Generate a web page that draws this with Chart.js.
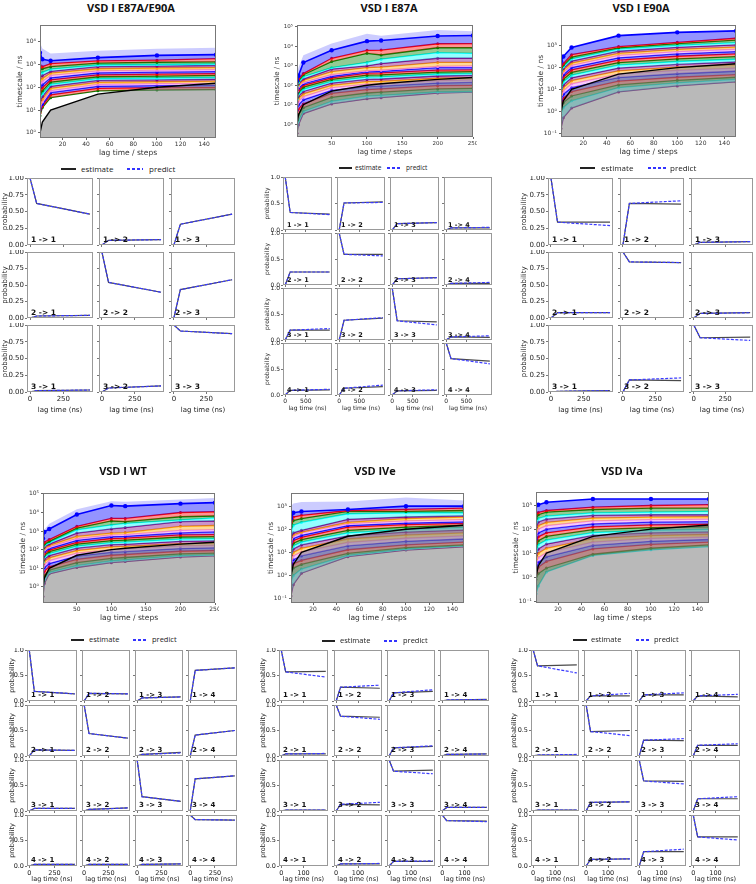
<!DOCTYPE html>
<html lang="en">
<head>
<meta charset="UTF-8">
<title>VSD implied timescales and CK tests</title>
<script src="https://cdn.jsdelivr.net/npm/chart.js"></script>
<style>
  body { margin: 0; background: #fff; }
  #fig { position: relative; width: 756px; height: 884px; overflow: hidden; }
  #fig canvas { position: absolute; }
  .ttl { position: absolute; font: bold 11px 'Open Sans', sans-serif; color: #111; white-space: nowrap; transform: translate(-50%, -50%); }
  .lgTxt { position: absolute; font-family: 'Open Sans', sans-serif; color: #222; white-space: nowrap; transform: translateY(-50%); line-height: 1; }
  .lgLine { position: absolute; height: 1.5px; }
  .cellLbl { position: absolute; font-family: 'DejaVu Sans', sans-serif; font-weight: bold; color: #111; white-space: nowrap; line-height: 1; }
</style>
</head>
<body>
<div id="fig"></div>
<script>
// ---------- data ----------
const lagsShort = [1, 3, 10, 50, 100, 150];
const lagsLong = [1, 3, 10, 50, 100, 120, 200, 250];
// lag time line in ns (grey area below it)
const lagNsShort = [1, 3, 10, 50, 100, 150];
const lagNsLong = [1, 3, 10, 50, 100, 120, 200, 250];
const ticksShort = [20, 40, 60, 80, 100, 120, 140];
const ticksLong = [50, 100, 150, 200, 250];

// implied timescales (ns), slowest process first
const tsE87E90 = [
  [3250, 1700, 1450, 2000, 2500, 2700],
  [950, 800, 1100, 1450, 1550, 1800],
  [600, 650, 800, 1150, 1250, 1300],
  [420, 450, 620, 950, 1000, 1050],
  [300, 330, 500, 800, 850, 900],
  [210, 240, 420, 650, 700, 730],
  [150, 180, 330, 520, 560, 600],
  [105, 130, 260, 430, 460, 490],
  [75, 95, 210, 350, 380, 400],
  [52, 70, 170, 290, 310, 330],
  [38, 52, 135, 240, 255, 270],
  [27, 40, 110, 200, 210, 225],
  [20, 30, 90, 165, 175, 185],
  [14, 23, 72, 135, 145, 150],
  [10, 18, 58, 110, 118, 122],
  [7.5, 15, 47, 90, 96, 100],
  [5.7, 13, 35, 70, 76, 80]
];
const bandE87E90 = [9000, 5000, 3000, 4000, 4900, 5400];

const tsE87 = [
  [170, 310, 1480, 6300, 18600, 20000, 34000, 36000],
  [130, 200, 400, 2450, 6300, 6500, 13700, 14000],
  [110, 170, 350, 1650, 4400, 3600, 8500, 8500],
  [90, 140, 275, 800, 1500, 2200, 4800, 4400],
  [75, 120, 210, 680, 1000, 1300, 2450, 2450],
  [60, 100, 180, 500, 800, 850, 1500, 1500],
  [50, 85, 140, 350, 560, 600, 930, 1000],
  [40, 70, 120, 290, 500, 520, 800, 800],
  [32, 55, 100, 240, 420, 430, 600, 620],
  [25, 45, 80, 200, 330, 340, 480, 500],
  [19, 36, 62, 160, 260, 270, 380, 400],
  [14, 28, 48, 130, 200, 210, 300, 320],
  [10, 21, 36, 100, 155, 160, 230, 250],
  [7, 15, 26, 75, 115, 120, 175, 190],
  [5, 10, 18, 55, 85, 90, 130, 140],
  [3, 6, 11, 38, 60, 65, 95, 100],
  [1.6, 3, 7, 24, 40, 44, 65, 70],
  [0.8, 1.5, 4.5, 15, 28, 30, 45, 48],
  [0.34, 0.9, 3.5, 11, 20, 23, 40, 45]
];
const bandE87 = [400, 800, 3500, 14000, 45000, 35000, 70000, 60000];

const tsE90 = [
  [195, 320, 830, 2900, 4100, 4800],
  [95, 150, 390, 920, 1440, 2200],
  [80, 130, 300, 800, 1250, 1800],
  [65, 110, 250, 700, 1050, 1400],
  [52, 90, 200, 560, 850, 1100],
  [42, 75, 160, 450, 680, 870],
  [33, 60, 125, 360, 540, 690],
  [26, 47, 100, 280, 420, 540],
  [20, 37, 78, 220, 330, 420],
  [15, 29, 60, 170, 250, 320],
  [11, 22, 45, 130, 190, 240],
  [8, 16, 34, 95, 140, 180],
  [6, 12, 25, 70, 105, 135],
  [4.2, 8.5, 18, 50, 75, 95],
  [3, 6, 12, 35, 52, 68],
  [2, 4, 8, 24, 36, 48],
  [1.2, 2.5, 5, 16, 26, 36],
  [0.7, 1.5, 3, 12, 20, 29],
  [0.16, 0.5, 1.4, 7.7, 14.4, 22]
];

const tsWT = [
  [400, 900, 1300, 7800, 24000, 22000, 30000, 34000],
  [150, 250, 350, 1800, 4800, 4800, 10000, 11000],
  [120, 200, 280, 1450, 3500, 3200, 5900, 6500],
  [100, 170, 240, 1170, 2150, 2600, 4000, 5200],
  [80, 140, 200, 780, 1300, 1550, 3200, 3500],
  [65, 115, 170, 520, 780, 830, 1800, 2000],
  [52, 95, 140, 400, 620, 650, 1100, 1200],
  [42, 78, 115, 320, 500, 520, 800, 900],
  [34, 62, 95, 250, 400, 420, 620, 650],
  [27, 50, 78, 200, 310, 330, 480, 500],
  [21, 40, 62, 155, 240, 255, 370, 390],
  [16, 31, 48, 120, 185, 195, 280, 300],
  [12, 23, 36, 90, 140, 150, 210, 230],
  [8, 16, 26, 65, 100, 110, 160, 170],
  [5.5, 11, 18, 45, 72, 78, 115, 125],
  [3.5, 7, 12, 30, 50, 55, 82, 90],
  [2, 4, 8, 20, 34, 38, 60, 65],
  [1, 2.5, 6, 14, 25, 28, 48, 52],
  [0.3, 1.5, 5, 11, 20, 23, 40, 46]
];
const bandWT = [600, 1200, 2500, 15000, 40000, 38000, 50000, 60000];

const tsIVe = [
  [290, 520, 590, 720, 1000, 1000],
  [200, 340, 400, 650, 720, 820],
  [130, 240, 290, 590, 590, 650],
  [76, 150, 200, 470, 520, 520],
  [45, 70, 90, 270, 340, 380],
  [35, 58, 75, 200, 290, 340],
  [28, 50, 70, 175, 230, 260],
  [22, 40, 55, 145, 185, 210],
  [17, 32, 45, 125, 160, 180],
  [13, 25, 36, 90, 125, 150],
  [10, 19, 28, 70, 100, 120],
  [7.5, 14, 21, 52, 76, 92],
  [5.5, 10, 15, 38, 56, 70],
  [4, 7, 10.5, 27, 41, 52],
  [2.8, 4.8, 7, 19, 30, 38],
  [1.9, 3.2, 4.5, 13, 21, 28],
  [1.2, 2.1, 3, 9, 16, 21],
  [0.5, 1, 1.9, 7.5, 14, 19.5],
  [0.13, 0.4, 1.25, 6.5, 12.6, 17.5]
];
const bandIVe = [1000, 1300, 1500, 1600, 2400, 1750];

const tsIVa = [
  [970, 1050, 1320, 1800, 1800, 1800],
  [440, 500, 600, 830, 970, 1050],
  [270, 400, 515, 660, 750, 750],
  [200, 280, 350, 480, 515, 550],
  [120, 200, 260, 375, 400, 400],
  [80, 140, 190, 290, 320, 330],
  [55, 100, 140, 220, 250, 260],
  [38, 70, 100, 165, 195, 205],
  [26, 48, 70, 125, 150, 160],
  [18, 33, 50, 95, 115, 125],
  [12, 23, 35, 72, 90, 98],
  [8, 15, 24, 55, 70, 77],
  [5.5, 10, 16, 40, 54, 60],
  [3.7, 6.5, 10.5, 29, 41, 47],
  [2.4, 4.2, 7, 21, 31, 37],
  [1.5, 2.6, 4.5, 15, 23, 29],
  [0.8, 1.4, 2.4, 9, 16, 22],
  [0.2, 0.43, 1.65, 8, 13.7, 18.7]
];

// decades shown on the log axes
const decE87E90 = [0, 1, 2, 3, 4];
const decE87 = [0, 1, 2, 3, 4, 5];
const decE90 = [-1, 0, 1, 2, 3];
const decWT = [0, 1, 2, 3, 4, 5];
const decIVe = [-1, 0, 1, 2, 3];
const decIVa = [-1, 0, 1, 2, 3];

// CK test, row-major i -> j : [value at lag, estimate at end, predict at end]
const ckE87E90 = [
  [0.62, 0.46, 0.46], [0.07, 0.08, 0.08], [0.31, 0.46, 0.46],
  [0.03, 0.04, 0.04], [0.54, 0.39, 0.39], [0.43, 0.58, 0.58],
  [0.02, 0.03, 0.03], [0.06, 0.09, 0.09], [0.91, 0.87, 0.87]
];
const ckE87 = [
  [0.33, 0.30, 0.29], [0.51, 0.53, 0.52], [0.12, 0.14, 0.14], [0.04, 0.04, 0.05],
  [0.25, 0.25, 0.25], [0.59, 0.59, 0.56], [0.12, 0.14, 0.14], [0.03, 0.03, 0.05],
  [0.19, 0.19, 0.22], [0.38, 0.42, 0.43], [0.37, 0.35, 0.29], [0.06, 0.05, 0.08],
  [0.09, 0.10, 0.11], [0.13, 0.16, 0.19], [0.08, 0.09, 0.10], [0.70, 0.65, 0.60]
];
const ckE90 = [
  [0.34, 0.34, 0.29], [0.62, 0.61, 0.66], [0.04, 0.05, 0.05],
  [0.08, 0.08, 0.08], [0.85, 0.84, 0.84], [0.07, 0.08, 0.08],
  [0.01, 0.02, 0.02], [0.18, 0.17, 0.21], [0.81, 0.82, 0.77]
];
const ckWT = [
  [0.19, 0.14, 0.14], [0.15, 0.14, 0.14], [0.06, 0.08, 0.08], [0.60, 0.65, 0.65],
  [0.12, 0.11, 0.11], [0.44, 0.35, 0.35], [0.03, 0.07, 0.06], [0.41, 0.50, 0.50],
  [0.05, 0.05, 0.05], [0.03, 0.06, 0.06], [0.28, 0.19, 0.19], [0.63, 0.69, 0.69],
  [0.03, 0.03, 0.03], [0.03, 0.03, 0.03], [0.03, 0.04, 0.04], [0.91, 0.90, 0.90]
];
const ckIVe = [
  [0.57, 0.58, 0.47], [0.27, 0.25, 0.31], [0.16, 0.19, 0.22], [0.02, 0.03, 0.03],
  [0.04, 0.04, 0.05], [0.78, 0.76, 0.72], [0.16, 0.19, 0.20], [0.03, 0.04, 0.04],
  [0.02, 0.02, 0.02], [0.13, 0.12, 0.17], [0.78, 0.80, 0.73], [0.07, 0.07, 0.07],
  [0.01, 0.01, 0.01], [0.04, 0.04, 0.05], [0.09, 0.09, 0.10], [0.89, 0.88, 0.87]
];
const ckIVa = [
  [0.69, 0.71, 0.55], [0.10, 0.10, 0.15], [0.12, 0.12, 0.16], [0.10, 0.08, 0.13],
  [0.02, 0.02, 0.03], [0.48, 0.50, 0.40], [0.31, 0.30, 0.34], [0.21, 0.21, 0.24],
  [0.02, 0.02, 0.02], [0.17, 0.18, 0.18], [0.59, 0.58, 0.53], [0.24, 0.24, 0.28],
  [0.01, 0.01, 0.01], [0.13, 0.14, 0.14], [0.28, 0.28, 0.33], [0.57, 0.57, 0.51]
];
// CK lag times (ns): start, one lag, last lag
const ckNsE87E90 = [0, 50, 450];
const ckNsE87 = [0, 120, 1080];
const ckNsE90 = [0, 50, 450];
const ckNsWT = [0, 50, 450];
const ckNsIVe = [0, 20, 200];
const ckNsIVa = [0, 20, 200];
const ckYFine = [0, 0.25, 0.5, 0.75, 1];
const ckYCoarse = [0, 0.5, 1];
const ckX250 = [0, 250];
const ckX500 = [0, 500];
const ckX100 = [0, 100];

const panels = [
  { name: 'VSD I E87A/E90A', lags: lagsShort, lagNs: lagNsShort, ts: tsE87E90, band: bandE87E90, xTicks: ticksShort, dec: decE87E90, n: 3, ck: ckE87E90, ckNs: ckNsE87E90, ckX: ckX250, ckY: ckYFine },
  { name: 'VSD I E87A', lags: lagsLong, lagNs: lagNsLong, ts: tsE87, band: bandE87, xTicks: ticksLong, dec: decE87, n: 4, ck: ckE87, ckNs: ckNsE87, ckX: ckX500, ckY: ckYCoarse },
  { name: 'VSD I E90A', lags: lagsShort, lagNs: lagNsShort, ts: tsE90, band: null, xTicks: ticksShort, dec: decE90, n: 3, ck: ckE90, ckNs: ckNsE90, ckX: ckX250, ckY: ckYFine },
  { name: 'VSD I WT', lags: lagsLong, lagNs: lagNsLong, ts: tsWT, band: bandWT, xTicks: ticksLong, dec: decWT, n: 4, ck: ckWT, ckNs: ckNsWT, ckX: ckX250, ckY: ckYCoarse },
  { name: 'VSD IVe', lags: lagsShort, lagNs: lagNsShort, ts: tsIVe, band: bandIVe, xTicks: ticksShort, dec: decIVe, n: 4, ck: ckIVe, ckNs: ckNsIVe, ckX: ckX100, ckY: ckYCoarse },
  { name: 'VSD IVa', lags: lagsShort, lagNs: lagNsShort, ts: tsIVa, band: null, xTicks: ticksShort, dec: decIVa, n: 4, ck: ckIVa, ckNs: ckNsIVa, ckX: ckX100, ckY: ckYCoarse }
];

// ---------- layout (pixels) ----------
const rowsTop = [[178, 245], [252, 318], [325, 392]];
const rowsBot = [[650, 701], [705, 756], [760, 811], [815, 866]];
const layouts = [
  { title: [131, 7], ts: { x: 40, y: 23, w: 177, h: 115, lo: -0.21, hi: 4.73, fs: 6, tfs: 7.5 },
    leg: { y: 169, l1: [61, 76], t1: 81, l2: [127, 143], t2: 149, fs: 8 },
    ck: { cols: [[27, 93], [99, 164], [171, 235]], rows: rowsTop, fs: 7, yGap: 22, xTitle: 18.5, xr: [-22.5, 472.5] } },
  { title: [389, 7], ts: { x: 297, y: 23, w: 177, h: 114, lo: -0.66, hi: 5.1, fs: 5.5, tfs: 7 },
    leg: { y: 168, l1: [339, 352], t1: 355, l2: [387, 400], t2: 406, fs: 6.5 },
    ck: { cols: [[283, 332], [337, 385], [390, 439], [444, 492]], rows: [[177, 230], [233, 285], [288, 340], [343, 395]], fs: 6, yGap: 16, xTitle: 13.7, xr: [-54, 1134] } },
  { title: [641, 7], ts: { x: 561, y: 23, w: 176, h: 114, lo: -1.18, hi: 3.95, fs: 6, tfs: 7.5 },
    leg: { y: 168, l1: [580, 595], t1: 601, l2: [648, 666], t2: 670, fs: 8 },
    ck: { cols: [[548, 613], [620, 684], [691, 753]], rows: rowsTop, fs: 7, yGap: 24, xTitle: 18.5, xr: [-22.5, 472.5] } },
  { title: [123, 470], ts: { x: 43, y: 491, w: 173, h: 112, lo: -0.87, hi: 5.05, fs: 6, tfs: 7.5 },
    leg: { y: 640, l1: [71, 84], t1: 89, l2: [133, 147], t2: 152, fs: 7.5 },
    ck: { cols: [[27, 77], [82, 130], [135, 183], [188, 237]], rows: rowsBot, fs: 6.5, yGap: 15, xTitle: 13.3, xr: [-22.5, 472.5] } },
  { title: [375, 470], ts: { x: 291, y: 491, w: 174, h: 112, lo: -1.19, hi: 3.57, fs: 6, tfs: 7.5 },
    leg: { y: 641, l1: [322, 335], t1: 340, l2: [384, 399], t2: 403, fs: 7.5 },
    ck: { cols: [[279, 328], [334, 382], [387, 435], [440, 489]], rows: rowsBot, fs: 6.5, yGap: 15.6, xTitle: 13.3, xr: [-10, 210] } },
  { title: [622, 470], ts: { x: 536, y: 490, w: 174, h: 113, lo: -1.08, hi: 3.55, fs: 6, tfs: 7.5 },
    leg: { y: 640, l1: [573, 587], t1: 591, l2: [636, 651], t2: 654, fs: 7.5 },
    ck: { cols: [[531, 579], [584, 632], [637, 686], [691, 740]], rows: rowsBot, fs: 6.5, yGap: 17, xTitle: 13.3, xr: [-10, 210] } }
];

// pyemma process colours: blue, red, green, cyan, purple, orange, violet
const palette = [[0, 0, 255], [255, 0, 0], [0, 128, 0], [0, 255, 255], [128, 0, 128], [255, 165, 0], [238, 130, 238]];
const rgba = (c, a) => `rgba(${c[0]},${c[1]},${c[2]},${a})`;
const SUP = { '-': '\u207B', '0': '\u2070', '1': '\u00B9', '2': '\u00B2', '3': '\u00B3', '4': '\u2074', '5': '\u2075' };
const sup = n => String(n).split('').map(ch => SUP[ch]).join('');

// ---------- drawing ----------
const fig = document.getElementById('fig');
Chart.defaults.font.family = "'DejaVu Sans', sans-serif";
Chart.defaults.color = '#222';

const frame = {
  id: 'frame',
  afterDraw(ch, args, opts) {
    const a = ch.chartArea, g = ch.ctx;
    g.save();
    g.strokeStyle = opts.color || '#888';
    g.lineWidth = 1;
    g.strokeRect(Math.round(a.left) + 0.5, Math.round(a.top) + 0.5, Math.round(a.right - a.left) - 1, Math.round(a.bottom - a.top) - 1);
    g.restore();
  }
};

function canvasAt(x, y, w, h) {
  const c = document.createElement('canvas');
  c.width = Math.round(w); c.height = Math.round(h);
  c.style.left = Math.round(x) + 'px'; c.style.top = Math.round(y) + 'px';
  c.style.width = Math.round(w) + 'px'; c.style.height = Math.round(h) + 'px';
  fig.appendChild(c);
  return c;
}

function fixBox(prop, val) {
  return s => { s[prop] = val; s.paddingLeft = 0; s.paddingRight = 0; s.paddingTop = 0; s.paddingBottom = 0; };
}

function addText(cls, x, y, txt, fs) {
  const d = document.createElement('div');
  d.className = cls;
  d.textContent = txt;
  d.style.left = x + 'px'; d.style.top = y + 'px';
  if (fs) d.style.fontSize = fs + 'px';
  fig.appendChild(d);
  return d;
}

function addLine(x0, x1, y, bg) {
  const d = document.createElement('div');
  d.className = 'lgLine';
  d.style.left = x0 + 'px'; d.style.top = Math.round(y - 1) + 'px';
  d.style.width = (x1 - x0) + 'px';
  d.style.background = bg;
  fig.appendChild(d);
}

function timescales(P, L) {
  const T = L.ts;
  const padL = 30, padB = 22, padT = 2, padR = 3;
  const lh = T.tfs * 1.2;
  const cv = canvasAt(T.x - padL, T.y - padT, T.w + padL + padR, T.h + padT + padB);
  const pts = ys => P.lags.map((x, i) => ({ x, y: ys[i] }));
  const ds = [
    { data: pts(P.lagNs), borderColor: '#000', borderWidth: 1.4, pointRadius: 0, fill: false },
    { data: pts(P.lagNs), borderWidth: 0, pointRadius: 0, backgroundColor: 'rgba(128,128,128,0.55)', fill: 'start' }
  ];
  if (P.band) ds.push({ data: pts(P.band), borderWidth: 0, pointRadius: 0, backgroundColor: 'rgba(0,0,255,0.2)', fill: '+1' });
  P.ts.forEach((row, k) => {
    const c = palette[k % palette.length];
    ds.push({
      data: pts(row), borderColor: rgba(c, 1), borderWidth: k === 0 ? 1.6 : 1.3,
      pointRadius: k === 0 ? 2.2 : 1.5, pointBackgroundColor: rgba(c, 1), pointBorderWidth: 0,
      backgroundColor: rgba(c, 0.42), fill: k < P.ts.length - 1 ? '+1' : false
    });
  });
  new Chart(cv, {
    type: 'line',
    data: { datasets: ds },
    options: {
      responsive: false, animation: false, events: [],
      layout: { padding: { left: 0, top: padT, right: padR, bottom: 0 } },
      plugins: { legend: { display: false }, tooltip: { enabled: false }, frame: { color: '#777' } },
      scales: {
        x: {
          type: 'linear', min: 1, max: P.lags[P.lags.length - 1],
          afterFit: fixBox('height', padB),
          afterBuildTicks: s => { s.ticks = P.xTicks.map(value => ({ value })); },
          ticks: { font: { size: T.fs }, padding: 1, maxRotation: 0, autoSkip: false, color: '#333' },
          grid: { drawOnChartArea: false, tickLength: 2, color: '#666' },
          border: { display: false },
          title: { display: true, text: 'lag time / steps', font: { size: T.tfs }, color: '#333', padding: { top: 0, bottom: padB - 15 - lh / 2 } }
        },
        y: {
          type: 'logarithmic', min: Math.pow(10, T.lo), max: Math.pow(10, T.hi),
          afterFit: fixBox('width', padL),
          afterBuildTicks: s => { s.ticks = P.dec.map(e => ({ value: Math.pow(10, e) })); },
          ticks: { font: { size: T.fs }, padding: 2, autoSkip: false, color: '#333', callback: v => '10' + sup(Math.round(Math.log10(v))) },
          grid: { drawOnChartArea: false, tickLength: 2, color: '#666' },
          border: { display: false },
          title: { display: true, text: 'timescale / ns', font: { size: T.tfs }, color: '#333', padding: { top: padL - 20 - lh / 2, bottom: 0 } }
        }
      }
    },
    plugins: [frame]
  });
}

function legendRow(L) {
  const g = L.leg;
  addLine(g.l1[0], g.l1[1], g.y, '#222');
  addText('lgTxt', g.t1, g.y, 'estimate', g.fs);
  addLine(g.l2[0], g.l2[1], g.y, 'repeating-linear-gradient(90deg, #3333ff 0 3px, transparent 3px 5px)');
  addText('lgTxt', g.t2, g.y, 'predict', g.fs);
}

function ckGrid(P, L) {
  const C = L.ck, n = P.n, fs = C.fs, lh = fs * 1.2;
  const dec = P.ckY.length > 3 ? 2 : 1;
  for (let r = 0; r < n; r++) {
    for (let c = 0; c < n; c++) {
      const v = P.ck[r * n + c];
      const start = r === c ? 1 : 0;
      const first = c === 0, last = r === n - 1;
      const [x0, x1] = C.cols[c], [y0, y1] = C.rows[r];
      const padL = first ? Math.ceil(C.yGap + lh / 2) : 3;
      const padB = last ? Math.ceil(C.xTitle + lh / 2) : 3;
      const padT = 2, padR = 2;
      const cv = canvasAt(x0 - padL, y0 - padT, x1 - x0 + padL + padR, y1 - y0 + padT + padB);
      const est = P.ckNs.map((x, i) => ({ x, y: [start, v[0], v[1]][i] }));
      const pred = P.ckNs.map((x, i) => ({ x, y: [start, v[0], v[2]][i] }));
      new Chart(cv, {
        type: 'line',
        data: {
          datasets: [
            { data: pred, borderColor: '#3a3aff', borderDash: [3, 1.5], borderWidth: 1.2, pointRadius: 0, fill: false },
            { data: est, borderColor: '#4a4a4a', borderWidth: 1.2, pointRadius: 0, fill: false }
          ]
        },
        options: {
          responsive: false, animation: false, events: [],
          layout: { padding: { left: 0, top: padT, right: padR, bottom: 0 } },
          plugins: { legend: { display: false }, tooltip: { enabled: false }, frame: { color: '#999' } },
          scales: {
            x: {
              type: 'linear', min: C.xr[0], max: C.xr[1],
              afterFit: fixBox('height', padB),
              afterBuildTicks: s => { s.ticks = P.ckX.map(value => ({ value })); },
              ticks: { display: last, font: { size: fs }, padding: 1, maxRotation: 0, autoSkip: false, color: '#222' },
              grid: { drawOnChartArea: false, tickLength: 2, color: '#777' },
              border: { display: false },
              title: { display: last, text: 'lag time (ns)', font: { size: fs }, color: '#222', padding: { top: 0, bottom: padB - C.xTitle - lh / 2 } }
            },
            y: {
              type: 'linear', min: 0, max: 1,
              afterFit: fixBox('width', padL),
              afterBuildTicks: s => { s.ticks = P.ckY.map(value => ({ value })); },
              ticks: { display: first, font: { size: fs }, padding: 1, autoSkip: false, color: '#222', callback: val => val.toFixed(dec) },
              grid: { drawOnChartArea: false, tickLength: 2, color: '#777' },
              border: { display: false },
              title: { display: first, text: 'probability', font: { size: fs }, color: '#222', padding: { top: padL - C.yGap - lh / 2, bottom: 0 } }
            }
          }
        },
        plugins: [frame]
      });
      addText('cellLbl', x0 + 4, y1 - 2.5 - fs, `${r + 1} -> ${c + 1}`, fs + 0.5);
    }
  }
}

panels.forEach((P, i) => {
  const L = layouts[i];
  addText('ttl', L.title[0], L.title[1], P.name);
  timescales(P, L);
  legendRow(L);
  ckGrid(P, L);
});
</script>
</body>
</html>
